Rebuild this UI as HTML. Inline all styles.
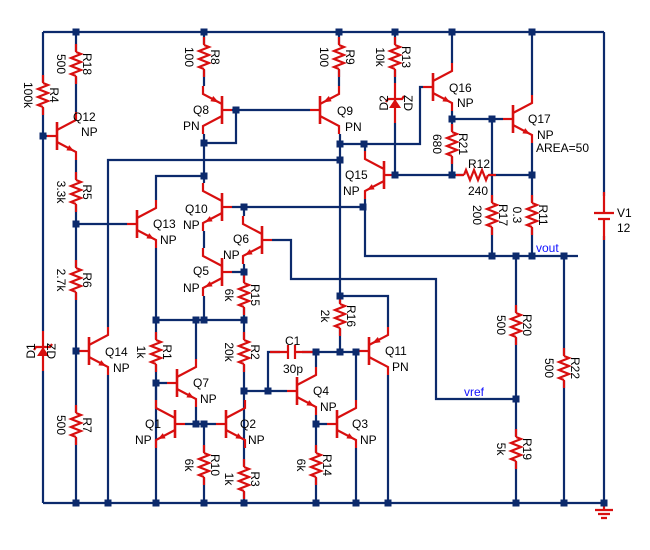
<!DOCTYPE html>
<html><head><meta charset="utf-8"><style>
html,body{margin:0;padding:0;background:#fff;}
svg{display:block;}
text{font-family:"Liberation Sans",sans-serif;font-size:12px;fill:#000;}
.w{stroke:#0c2a6c;stroke-width:2.2;fill:none;}
.r{stroke:#d80f0f;stroke-width:2.2;fill:none;}
.n{fill:#0c2a6c;}
.b{fill:#1010ff;}
</style></head><body>
<svg width="650" height="550" viewBox="0 0 650 550" xmlns="http://www.w3.org/2000/svg">
<defs>
<g id="npn">
 <line class="r" x1="-10" y1="0" x2="0" y2="0"/>
 <line class="r" x1="0" y1="-14" x2="0" y2="14" style="stroke-width:2.6"/>
 <polyline class="r" points="0,-6 19,-16 19,-24"/>
 <polyline class="r" points="0,6 19,16 19,24"/>
 <polygon fill="#d80f0f" points="17,15 9.4,14.4 12.2,9.1"/>
</g>
<g id="pnp">
 <line class="r" x1="-10" y1="0" x2="0" y2="0"/>
 <line class="r" x1="0" y1="-14" x2="0" y2="14" style="stroke-width:2.6"/>
 <polyline class="r" points="0,-6 19,-16 19,-24"/>
 <polyline class="r" points="0,6 19,16 19,24"/>
 <polygon fill="#d80f0f" points="3,-7.5 8.8,-14 11.6,-8.7"/>
</g>
<g id="res">
 <rect x="-7" y="-13" width="14" height="26" fill="#fff"/>
 <line class="r" x1="0" y1="-20" x2="0" y2="-12"/>
 <line class="r" x1="0" y1="12" x2="0" y2="20"/>
 <polyline class="r" points="0,-12 5,-10 -5,-6 5,-2 -5,2 5,6 -5,10 0,12"/>
</g>
<g id="zd">
 <rect x="-10" y="-20" width="20" height="40" fill="#fff"/>
 <line class="r" x1="0" y1="-20" x2="0" y2="20"/>
 <polygon fill="#d80f0f" points="-6,5 6,5 0,-4"/>
 <polyline class="r" points="-9,-1 -7,-4 7,-4 9,-7"/>
</g>
</defs>

<!-- wires -->
<path class="w" d="M43 32H604 M43 503H604 M43 32V503 M604 32V503"/>
<path class="w" d="M76 32V112 M76 160V503 M43 136H47 M76 224H127 M156 200V176H204 M156 248V503 M79 351H76 M108 327V160H340 M108 375V503"/>
<path class="w" d="M204 32V86 M204 134V183 M232 110H310 M236 110V143H204 M232 207H363 M204 231V248 M204 296V320 M244 216V207 M244 264V503 M232 272H244 M272 240H291V279H436V399H516"/>
<path class="w" d="M156 320H244 M196 320V359 M156 383H167 M196 407V424 M185 424H216 M204 424V503 M156 400V383"/>
<path class="w" d="M244 391H287 M268 391V352H280 M302 352H359 M316 367V352 M316 415V424H327 M316 424V503 M356 400V352 M356 448V503 M388 327V296H340 M388 375V503"/>
<path class="w" d="M339 32V86 M340 134V352 M340 144H420V87H423 M365 151V144H340 M365 199V256H578 M394 175H532 M395 32V175 M452 32V63 M452 111V175 M452 119H503 M492 119V256 M532 32V95 M532 143V256 M516 256V503 M564 256V503"/>

<!-- resistors -->
<use href="#res" x="76" y="64"/>
<use href="#res" x="76" y="192"/>
<use href="#res" x="76" y="280"/>
<use href="#res" x="76" y="425"/>
<use href="#res" x="43" y="95"/>
<use href="#res" x="204" y="57"/>
<use href="#res" x="339" y="57"/>
<use href="#res" x="395" y="57"/>
<use href="#res" x="452" y="144"/>
<use href="#res" x="492" y="215"/>
<use href="#res" x="532" y="215"/>
<use href="#res" x="244" y="295"/>
<use href="#res" x="244" y="352"/>
<use href="#res" x="156" y="352"/>
<use href="#res" x="204" y="465"/>
<use href="#res" x="244" y="479"/>
<use href="#res" x="316" y="465"/>
<use href="#res" x="340" y="316"/>
<use href="#res" x="516" y="325"/>
<use href="#res" x="516" y="449"/>
<use href="#res" x="564" y="368"/>
<g transform="translate(476,175) rotate(90)"><use href="#res"/></g>

<!-- zeners -->
<use href="#zd" x="43" y="351"/>
<use href="#zd" x="395" y="103"/>

<!-- capacitor C1 -->
<rect x="280" y="343" width="22" height="18" fill="#fff"/>
<path class="r" d="M270 352H288 M295 352H314 M288 345V359 M295 345V359"/>

<!-- battery V1 -->
<rect x="592" y="196" width="24" height="40" fill="#fff"/>
<path class="r" d="M604 192V213 M604 219V240 M594 213H614 M598 219H610"/>

<!-- ground -->
<path class="r" d="M604 503V510 M595 510H613 M598 514H610 M601 518H607"/>

<!-- transistors -->
<use href="#npn" transform="translate(57,136)"/>
<use href="#npn" transform="translate(137,224)"/>
<use href="#npn" transform="translate(89,351)"/>
<use href="#pnp" transform="translate(222,110) scale(-1,1)"/>
<use href="#pnp" transform="translate(320,110)"/>
<use href="#npn" transform="translate(222,207) scale(-1,1)"/>
<use href="#npn" transform="translate(222,272) scale(-1,1)"/>
<use href="#npn" transform="translate(262,240) scale(-1,1)"/>
<use href="#npn" transform="translate(177,383)"/>
<use href="#npn" transform="translate(175,424) scale(-1,1)"/>
<use href="#npn" transform="translate(226,424)"/>
<use href="#npn" transform="translate(297,391)"/>
<use href="#npn" transform="translate(337,424)"/>
<use href="#pnp" transform="translate(369,351)"/>
<use href="#npn" transform="translate(384,175) scale(-1,1)"/>
<use href="#npn" transform="translate(433,87)"/>
<use href="#npn" transform="translate(513,119)"/>

<!-- nodes -->
<g class="n">
<rect x="72.5" y="28.5" width="7" height="7"/><rect x="200.5" y="28.5" width="7" height="7"/><rect x="335.5" y="28.5" width="7" height="7"/><rect x="391.5" y="28.5" width="7" height="7"/><rect x="448.5" y="28.5" width="7" height="7"/><rect x="528.5" y="28.5" width="7" height="7"/>
<rect x="39.5" y="132.5" width="7" height="7"/><rect x="72.5" y="220.5" width="7" height="7"/><rect x="200.5" y="139.5" width="7" height="7"/><rect x="232.5" y="106.5" width="7" height="7"/><rect x="200.5" y="172.5" width="7" height="7"/><rect x="240.5" y="203.5" width="7" height="7"/><rect x="359.5" y="203.5" width="7" height="7"/><rect x="240.5" y="268.5" width="7" height="7"/>
<rect x="152.5" y="316.5" width="7" height="7"/><rect x="192.5" y="316.5" width="7" height="7"/><rect x="200.5" y="316.5" width="7" height="7"/><rect x="240.5" y="316.5" width="7" height="7"/><rect x="72.5" y="347.5" width="7" height="7"/><rect x="152.5" y="379.5" width="7" height="7"/><rect x="192.5" y="420.5" width="7" height="7"/><rect x="200.5" y="420.5" width="7" height="7"/>
<rect x="240.5" y="387.5" width="7" height="7"/><rect x="264.5" y="387.5" width="7" height="7"/><rect x="312.5" y="348.5" width="7" height="7"/><rect x="336.5" y="348.5" width="7" height="7"/><rect x="352.5" y="348.5" width="7" height="7"/><rect x="336.5" y="292.5" width="7" height="7"/><rect x="312.5" y="420.5" width="7" height="7"/>
<rect x="336.5" y="140.5" width="7" height="7"/><rect x="336.5" y="156.5" width="7" height="7"/><rect x="360.5" y="140.5" width="7" height="7"/><rect x="391.5" y="171.5" width="7" height="7"/><rect x="448.5" y="171.5" width="7" height="7"/><rect x="448.5" y="115.5" width="7" height="7"/><rect x="488.5" y="115.5" width="7" height="7"/><rect x="528.5" y="171.5" width="7" height="7"/>
<rect x="488.5" y="252.5" width="7" height="7"/><rect x="512.5" y="252.5" width="7" height="7"/><rect x="528.5" y="252.5" width="7" height="7"/><rect x="560.5" y="252.5" width="7" height="7"/><rect x="512.5" y="395.5" width="7" height="7"/>
<rect x="72.5" y="499.5" width="7" height="7"/><rect x="104.5" y="499.5" width="7" height="7"/><rect x="152.5" y="499.5" width="7" height="7"/><rect x="200.5" y="499.5" width="7" height="7"/><rect x="240.5" y="499.5" width="7" height="7"/><rect x="312.5" y="499.5" width="7" height="7"/><rect x="352.5" y="499.5" width="7" height="7"/><rect x="384.5" y="499.5" width="7" height="7"/><rect x="512.5" y="499.5" width="7" height="7"/><rect x="560.5" y="499.5" width="7" height="7"/><rect x="600.5" y="499.5" width="7" height="7"/>
</g>

<!-- resistor labels (rotated) -->
<g text-anchor="middle">
<text transform="translate(83,64) rotate(90)">R18</text><text transform="translate(57,64) rotate(90)">500</text>
<text transform="translate(83,192) rotate(90)">R5</text><text transform="translate(57,192) rotate(90)">3.3k</text>
<text transform="translate(83,280) rotate(90)">R6</text><text transform="translate(57,280) rotate(90)">2.7k</text>
<text transform="translate(83,425) rotate(90)">R7</text><text transform="translate(57,425) rotate(90)">500</text>
<text transform="translate(50,95) rotate(90)">R4</text><text transform="translate(24,95) rotate(90)">100k</text>
<text transform="translate(211,57) rotate(90)">R8</text><text transform="translate(185,57) rotate(90)">100</text>
<text transform="translate(346,57) rotate(90)">R9</text><text transform="translate(320,57) rotate(90)">100</text>
<text transform="translate(402,57) rotate(90)">R13</text><text transform="translate(376,57) rotate(90)">10k</text>
<text transform="translate(459,144) rotate(90)">R21</text><text transform="translate(433,144) rotate(90)">680</text>
<text transform="translate(499,215) rotate(90)">R17</text><text transform="translate(473,215) rotate(90)">200</text>
<text transform="translate(539,215) rotate(90)">R11</text><text transform="translate(513,215) rotate(90)">0.3</text>
<text transform="translate(251,295) rotate(90)">R15</text><text transform="translate(225,295) rotate(90)">6k</text>
<text transform="translate(251,352) rotate(90)">R2</text><text transform="translate(225,352) rotate(90)">20k</text>
<text transform="translate(163,352) rotate(90)">R1</text><text transform="translate(137,352) rotate(90)">1k</text>
<text transform="translate(211,465) rotate(90)">R10</text><text transform="translate(185,465) rotate(90)">6k</text>
<text transform="translate(251,479) rotate(90)">R3</text><text transform="translate(225,479) rotate(90)">1k</text>
<text transform="translate(323,465) rotate(90)">R14</text><text transform="translate(297,465) rotate(90)">6k</text>
<text transform="translate(347,316) rotate(90)">R16</text><text transform="translate(321,316) rotate(90)">2k</text>
<text transform="translate(523,325) rotate(90)">R20</text><text transform="translate(497,325) rotate(90)">500</text>
<text transform="translate(523,449) rotate(90)">R19</text><text transform="translate(497,449) rotate(90)">5k</text>
<text transform="translate(571,368) rotate(90)">R22</text><text transform="translate(545,368) rotate(90)">500</text>
<text transform="translate(35,351) rotate(-90)">D1</text><text transform="translate(47,351) rotate(90)">ZD</text>
<text transform="translate(388,103) rotate(-90)">D2</text><text transform="translate(404,103) rotate(90)">ZD</text>
</g>

<!-- transistor & other labels -->
<text x="73" y="121">Q12</text><text x="81" y="136">NP</text>
<text x="153" y="228">Q13</text><text x="160" y="244">NP</text>
<text x="105" y="356">Q14</text><text x="113" y="372">NP</text>
<text x="193" y="114">Q8</text><text x="183" y="130">PN</text>
<text x="337" y="115">Q9</text><text x="345" y="131">PN</text>
<text x="185" y="213">Q10</text><text x="183" y="229">NP</text>
<text x="233" y="243">Q6</text><text x="223" y="259">NP</text>
<text x="193" y="275">Q5</text><text x="183" y="292">NP</text>
<text x="193" y="387">Q7</text><text x="200" y="403">NP</text>
<text x="145" y="428">Q1</text><text x="135" y="444">NP</text>
<text x="240" y="428">Q2</text><text x="248" y="444">NP</text>
<text x="313" y="395">Q4</text><text x="320" y="411">NP</text>
<text x="352" y="428">Q3</text><text x="360" y="444">NP</text>
<text x="385" y="355">Q11</text><text x="392" y="371">PN</text>
<text x="345" y="179">Q15</text><text x="343" y="195">NP</text>
<text x="449" y="92">Q16</text><text x="457" y="107">NP</text>
<text x="528" y="123">Q17</text><text x="537" y="139">NP</text><text x="536" y="152">AREA=50</text>
<text x="468" y="168">R12</text><text x="468" y="195">240</text>
<text x="285" y="345">C1</text><text x="283" y="373">30p</text>
<text x="617" y="217">V1</text><text x="617" y="232">12</text>
<text class="b" x="536" y="252">vout</text>
<text class="b" x="464" y="396">vref</text>
</svg>
</body></html>
